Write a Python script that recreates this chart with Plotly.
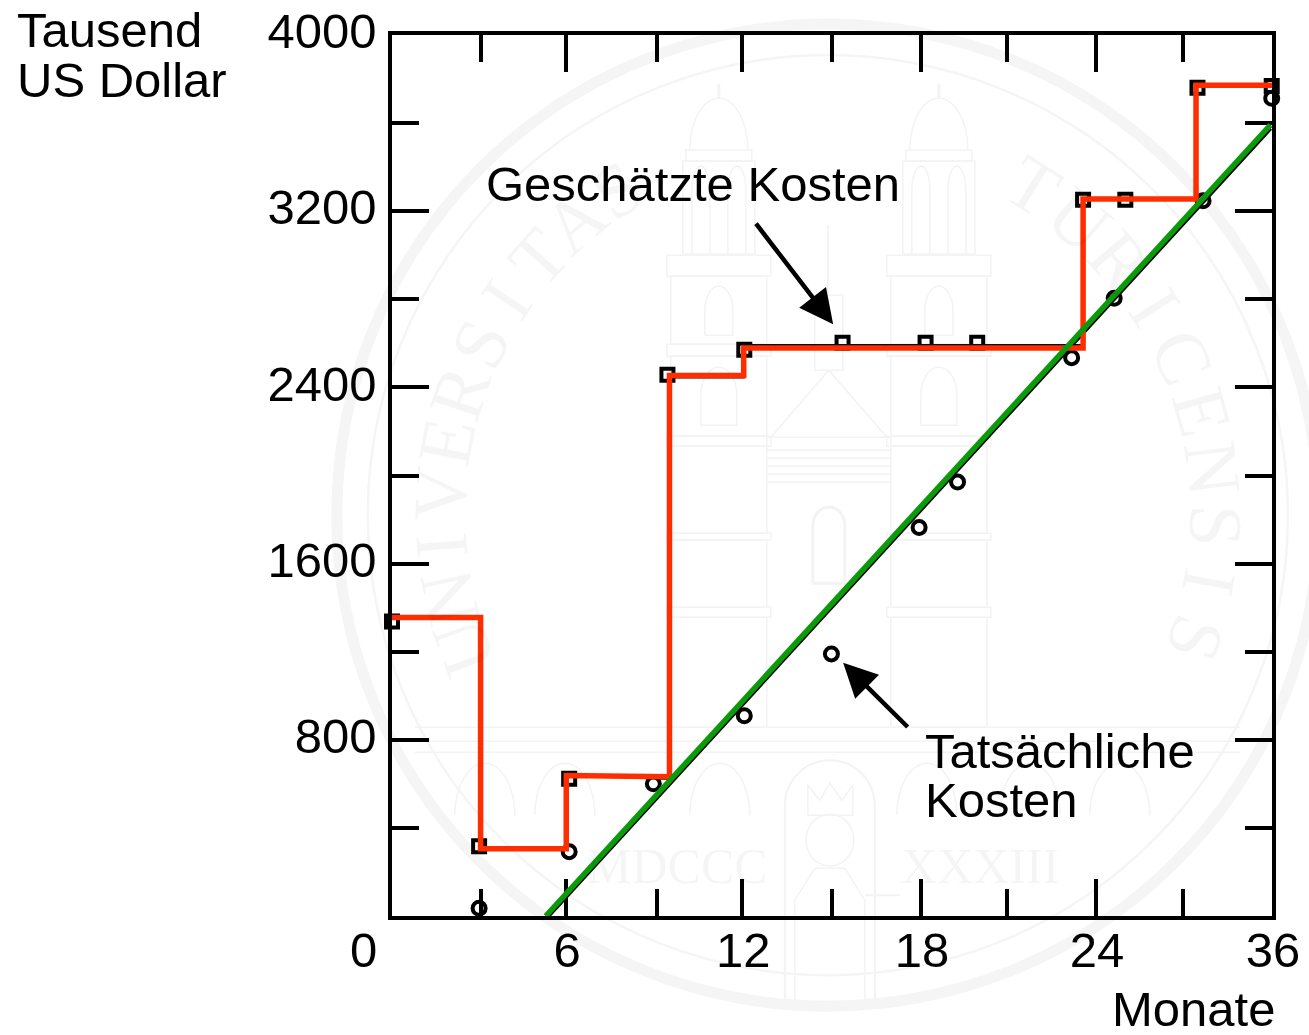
import math
import plotly.graph_objects as go

# --- data (x axis units follow the printed tick spacing; its last tick is labelled 36) ---
x_major = [0, 5.94, 11.94, 18.03, 24.0, 30]
x_labels = ["", "6", "12", "18", "24", "36"]
x_minor = [3.03, 9.03, 14.99, 20.95, 26.96]
y_major = [0, 800, 1600, 2400, 3200, 4000]
y_labels = ["", "800", "1600", "2400", "3200", "4000"]
y_minor = [400, 1200, 2000, 2800, 3600]

est_x = [0, 2.97, 6.04, 9.39, 12.01, 15.36, 18.19, 19.95, 23.56, 25.0, 27.46, 29.99]
est_y = [1337, 317, 623, 2458, 2571, 2603, 2603, 2603, 3252, 3252, 3761, 3769]
act_x = [2.97, 6.04, 8.91, 12.01, 14.98, 17.97, 19.28, 23.17, 24.62, 27.65, 29.99]
act_y = [35, 292, 600, 909, 1190, 1764, 1970, 2535, 2805, 3247, 3713]

step_x = [0, 3.02, 3.02, 5.94, 5.94, 9.46, 9.46, 11.99, 11.99, 23.56, 23.56, 27.41, 27.41, 30]
step_y = [1355, 1355, 305, 305, 638, 632, 2454, 2454, 2579, 2579, 3255, 3255, 3772, 3772]
step_under_y = [1350, 1350, 312, 312, 640, 622, 2445, 2445, 2592, 2592, 3255, 3255, 3772, 3772]
trend_x = [5.24, 29.95]
trend_y = [0, 3592]
trend_under_x = [5.37, 29.97]
trend_under_y = [0, 3574]

W, H = 1309, 1035
L, R, T, B = 392.2, 1272.1, 34.9, 915.8
FONT = "Liberation Sans"
FS = 49
WM = "#f3f3f3"
RING = "#f5f5f5"


def px(x):
    return (x - L) / (R - L)


def py(y):
    return (B - y) / (B - T)


def path_px(points, close=False):
    s = "M " + " L ".join(f"{px(a):.5f},{py(b):.5f}" for a, b in points)
    return s + (" Z" if close else "")


def arc(cx, cy, rx, ry, a0, a1, n=24):
    return [(cx + rx * math.cos(math.radians(a0 + (a1 - a0) * i / n)),
             cy - ry * math.sin(math.radians(a0 + (a1 - a0) * i / n))) for i in range(n + 1)]


shapes = []


def wm_path(points, close=False, width=1.5):
    shapes.append(dict(type="path", xref="paper", yref="paper", layer="below",
                       path=path_px(points, close), line=dict(color=WM, width=width)))


def wm_rect(x0, y0, x1, y1):
    wm_path([(x0, y0), (x1, y0), (x1, y1), (x0, y1)], True)


def wm_circle(r, width):
    cx, cy = 828, 515
    shapes.append(dict(type="circle", xref="paper", yref="paper", layer="below",
                       x0=px(cx - r), x1=px(cx + r), y0=py(cy + r), y1=py(cy - r),
                       line=dict(color=RING, width=width)))


wm_circle(491, 11)
wm_circle(460, 2.5)

for xc in (719, 939):
    wm_path(arc(xc, 150, 29, 52, 0, 180))
    wm_path([(xc, 98), (xc, 84)], width=3)
    wm_rect(xc - 33, 150, xc + 33, 161)
    wm_rect(xc - 36, 161, xc + 36, 254)
    wm_rect(xc - 52, 255, xc + 52, 276)
    wm_rect(xc - 48, 276, xc + 48, 344)
    wm_rect(xc - 52, 344, xc + 52, 356)
    wm_rect(xc - 48, 356, xc + 48, 436)
    wm_rect(xc - 52, 436, xc + 52, 446)
    wm_rect(xc - 48, 446, xc + 48, 533)
    wm_rect(xc - 52, 533, xc + 52, 540)
    wm_rect(xc - 48, 540, xc + 48, 607)
    wm_rect(xc - 52, 607, xc + 52, 617)
    wm_rect(xc - 48, 617, xc + 48, 727)
    for dx in (-18, 18):
        wm_path([(xc + dx - 9, 254), (xc + dx - 9, 190)] + arc(xc + dx, 190, 9, 24, 180, 0) + [(xc + dx + 9, 254)])
    wm_path([(xc - 14, 335)] + arc(xc, 310, 14, 24, 180, 0) + [(xc + 14, 335), (xc - 14, 335)])
    wm_path([(xc - 18, 425)] + arc(xc, 395, 18, 28, 180, 0) + [(xc + 18, 425), (xc - 18, 425)])

# central part between the towers
wm_path([(771, 437), (829, 370), (887, 437)])
wm_rect(815, 295, 843, 370)
wm_path([(828, 295), (828, 225)], width=2)
wm_rect(767, 437, 891, 450)
for yy in (458, 466, 474, 482):
    wm_path([(767, yy), (891, yy)])
wm_path([(813, 583), (813, 525)] + arc(829, 525, 16, 18, 180, 0) + [(845, 583), (813, 583)], width=3)
for yy in (727, 741, 752):
    wm_path([(415, yy), (1240, yy)])
for xc in (485, 565, 720, 927, 1030, 1120):
    wm_path(arc(xc, 815, 30, 52, 180, 0))
wm_path([(785, 1000), (785, 805)] + arc(830, 805, 45, 45, 180, 0) + [(875, 1000)], width=2)
wm_path([(808, 815), (808, 785), (820, 800), (830, 783), (842, 800), (853, 785), (853, 815), (808, 815)])
wm_path(arc(830, 840, 24, 26, 0, 360))
wm_path([(795, 1000), (795, 900), (815, 868), (845, 868), (865, 900), (865, 1000)])
wm_path([(865, 895), (900, 895)], width=2)

annotations = []


def wm_letter(ch, angle_deg, r=388):
    a = math.radians(angle_deg)
    x = 828 + r * math.sin(a)
    y = 515 - r * math.cos(a)
    annotations.append(dict(text=ch, x=px(x), y=py(y), xref="paper", yref="paper",
                            showarrow=False, textangle=angle_deg, xanchor="center", yanchor="middle",
                            font=dict(family="Liberation Serif", size=76, color="rgba(0,0,0,0.04)")))


for i, ch in enumerate("UNIVERSITAS"):
    wm_letter(ch, -110 + i * 7.7)
for i, ch in enumerate("TURICENSIS"):
    wm_letter(ch, 32 + i * 8.5)
for txt, cx in (("MDCCC", 678), ("XXXIII", 980)):
    annotations.append(dict(text=txt, x=px(cx), y=py(866), xref="paper", yref="paper", showarrow=False,
                            xanchor="center", yanchor="middle",
                            font=dict(family="Liberation Serif", size=50, color="rgba(0,0,0,0.04)")))


def label(text, x, y, anchor="left", **kw):
    annotations.append(dict(text=text, x=px(x), y=py(y), xref="paper", yref="paper", showarrow=False,
                            xanchor=anchor, yanchor="middle", font=dict(family=FONT, size=FS, color="black"), **kw))


label("Tausend", 15, 30)
label("US Dollar", 15, 80)
label("Geschätzte Kosten", 484, 184)
label("Tatsächliche", 923, 751)
label("Kosten", 923, 800)
label("Monate", 1277, 1009, "right")
label("0", 364, 950, "center")

for tip, tail in (((833.3, 324), (755, 222)), ((843.3, 662.7), (909.3, 728.3))):
    annotations.append(dict(text="", x=px(tip[0]), y=py(tip[1]), xref="paper", yref="paper",
                            ax=tail[0] - tip[0], ay=tail[1] - tip[1], axref="pixel", ayref="pixel",
                            showarrow=True, arrowhead=2, arrowsize=1.5, arrowwidth=4.5, arrowcolor="black"))

fig = go.Figure()
fig.add_trace(go.Scatter(x=est_x, y=est_y, mode="markers", cliponaxis=False, showlegend=False,
                         marker=dict(symbol="square-open", size=12, color="black", line=dict(width=4, color="black"))))
fig.add_trace(go.Scatter(x=act_x, y=act_y, mode="markers", cliponaxis=False, showlegend=False,
                         marker=dict(symbol="circle-open", size=13, color="black", line=dict(width=4, color="black"))))
fig.add_trace(go.Scatter(x=step_x, y=step_under_y, mode="lines", cliponaxis=False, showlegend=False,
                         line=dict(color="black", width=2)))
fig.add_trace(go.Scatter(x=trend_under_x, y=trend_under_y, mode="lines", cliponaxis=False, showlegend=False,
                         line=dict(color="black", width=2.5)))
fig.add_trace(go.Scatter(x=step_x, y=step_y, mode="lines", cliponaxis=False, showlegend=False,
                         line=dict(color="#FF2D00", width=5.5)))
fig.add_trace(go.Scatter(x=trend_x, y=trend_y, mode="lines", cliponaxis=False, showlegend=False,
                         line=dict(color="#0A9A0A", width=5.5)))

axis = dict(showgrid=False, zeroline=False, showline=True, linecolor="black", linewidth=3.5,
            mirror="allticks", ticks="inside", tickcolor="black", tickwidth=3.5, ticklen=37,
            tickmode="array", layer="below traces",
            tickfont=dict(family=FONT, size=FS, color="black"))

fig.update_layout(
    width=W, height=H, autosize=False, showlegend=False,
    paper_bgcolor="white", plot_bgcolor="rgba(0,0,0,0)",
    margin=dict(l=L, r=W - R, t=T, b=H - B, pad=0, autoexpand=False),
    shapes=shapes, annotations=annotations,
    xaxis=dict(axis, range=[0, 30], tickvals=x_major, ticktext=x_labels, ticklabelstandoff=-12, ticklabelshift=1,
               minor=dict(tickmode="array", tickvals=x_minor, ticks="inside", ticklen=27, tickwidth=3.5, tickcolor="black", showgrid=False)),
    yaxis=dict(axis, range=[0, 4000], tickvals=y_major, ticktext=y_labels, ticklabelshift=-4, ticklabelstandoff=2,
               minor=dict(tickmode="array", tickvals=y_minor, ticks="inside", ticklen=27, tickwidth=3.5, tickcolor="black", showgrid=False)),
)

fig.write_html("out.html", post_script="document.body.style.margin='0';", config=dict(displayModeBar=False))
